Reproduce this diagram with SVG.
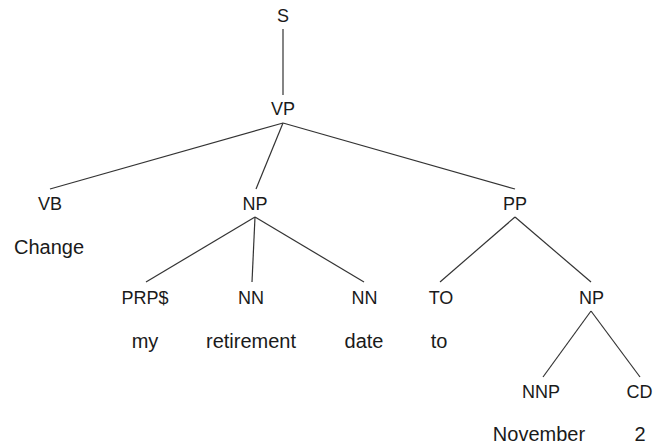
<svg xmlns="http://www.w3.org/2000/svg" width="665" height="446" viewBox="0 0 665 446">
<style>
text{font-family:"Liberation Sans",Arial,sans-serif;fill:#1a1a1a;text-anchor:middle}
.l{font-size:18px}
.w{font-size:20px}
#edges line{stroke:#333;stroke-width:1.2}
</style>
<rect width="665" height="446" fill="#fff"/>
<g id="edges">
<line x1="283" y1="29" x2="283" y2="95"/>
<line x1="283" y1="123" x2="50" y2="189"/>
<line x1="283" y1="123" x2="256" y2="189"/>
<line x1="283" y1="123" x2="515" y2="189"/>
<line x1="255" y1="217" x2="146" y2="282"/>
<line x1="255" y1="217" x2="252" y2="282"/>
<line x1="255" y1="217" x2="364" y2="282"/>
<line x1="515" y1="217" x2="440" y2="282"/>
<line x1="515" y1="217" x2="591" y2="282"/>
<line x1="591" y1="311" x2="543" y2="377"/>
<line x1="591" y1="311" x2="640" y2="377"/>
</g>
<g id="S"><text class="l" x="283" y="22.3">S</text></g>
<g id="VP"><text class="l" x="283" y="115">VP</text></g>
<g id="VB"><text class="l" x="50" y="210">VB</text></g>
<g id="Change"><text class="w" x="49" y="254">Change</text></g>
<g id="NP1"><text class="l" x="255" y="210">NP</text></g>
<g id="PP"><text class="l" x="515" y="210">PP</text></g>
<g id="PRP"><text class="l" x="145" y="304.3">PRP$</text></g>
<g id="NN1"><text class="l" x="251" y="304.3">NN</text></g>
<g id="NN2"><text class="l" x="364.5" y="304.3">NN</text></g>
<g id="TO"><text class="l" x="441" y="304.3">TO</text></g>
<g id="NP2"><text class="l" x="591.5" y="304.3">NP</text></g>
<g id="my"><text class="w" x="145" y="347.5">my</text></g>
<g id="retirement"><text class="w" x="251" y="347.5">retirement</text></g>
<g id="date"><text class="w" x="364" y="347.5">date</text></g>
<g id="to"><text class="w" x="439" y="347.5">to</text></g>
<g id="NNP"><text class="l" x="541" y="398.3">NNP</text></g>
<g id="CD"><text class="l" x="639.5" y="398.3">CD</text></g>
<g id="November"><text class="w" x="539" y="440.5">November</text></g>
<g id="two"><text class="w" x="640" y="440.5">2</text></g>
</svg>
